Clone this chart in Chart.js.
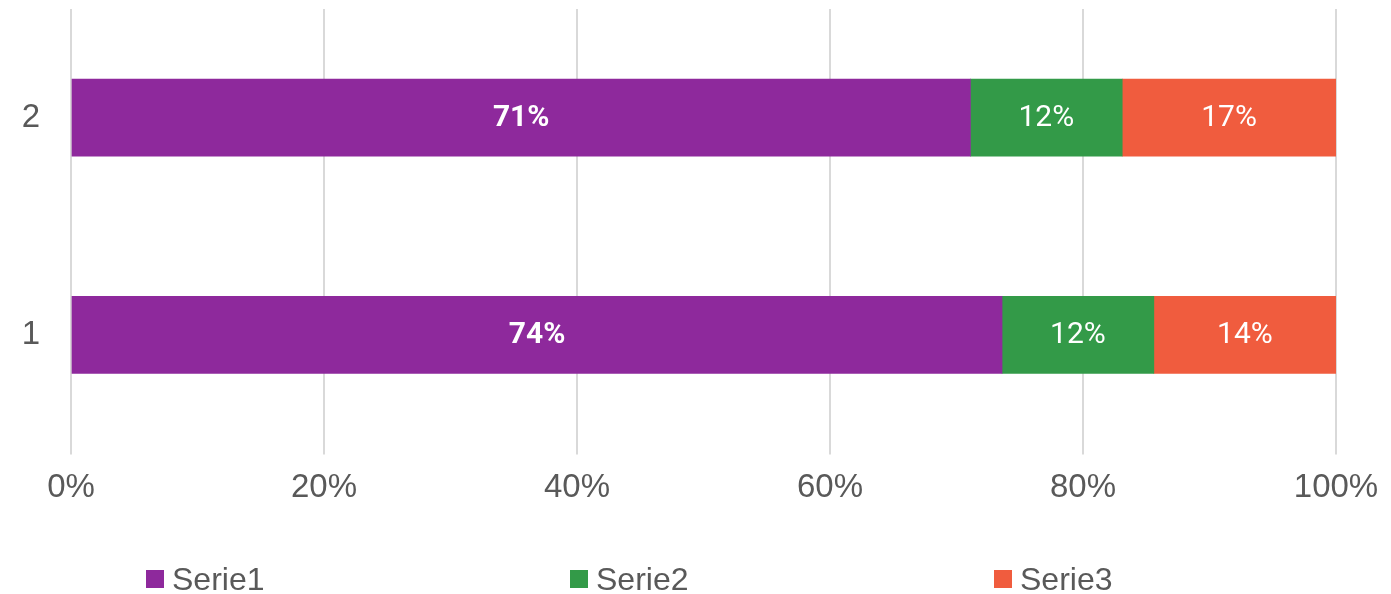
<!DOCTYPE html>
<html>
<head>
<meta charset="utf-8">
<script src="https://cdn.jsdelivr.net/npm/chart.js@4/dist/chart.umd.min.js"></script>
<style>
    html, body { margin: 0; padding: 0; background: #fff; }
    #wrap { position: relative; width: 1391px; height: 594px; }
    #legend {
        position: absolute; left: 146px; top: 560px;
        display: flex; font-family: "Liberation Sans", Arial, sans-serif;
        font-size: 32px; color: #595959;
    }
    #legend .item { width: 424px; display: flex; align-items: center; height: 38px; }
    #legend .box { width: 18px; height: 18px; margin-right: 8px; }
</style>
</head>
<body>
<div id="wrap">
    <canvas id="chart" width="1391" height="594"></canvas>
    <div id="legend"></div>
</div>
<script>
// Categories (top to bottom as drawn: "2" on top)
const categories = ['2', '1'];
const seriesNames = ['Serie1', 'Serie2', 'Serie3'];
const serie1 = [71.1, 73.6];
const serie2 = [12.0, 12.0];
const serie3 = [16.9, 14.4];
const xTicks = [0, 20, 40, 60, 80, 100];
const colors = ['#8e299c', '#339a48', '#f05c3e'];

// Draw percentage labels centred on each segment
const barLabels = {
    id: 'barLabels',
    afterDatasetsDraw(chart) {
        const ctx = chart.ctx;
        ctx.save();
        ctx.fillStyle = '#ffffff';
        ctx.textAlign = 'center';
        ctx.textBaseline = 'middle';
        chart.data.datasets.forEach((ds, i) => {
            const meta = chart.getDatasetMeta(i);
            ctx.font = (i === 0 ? 'bold ' : '') + '30px Roboto';
            meta.data.forEach((bar, j) => {
                const p = bar.getCenterPoint();
                ctx.fillText(Math.round(ds.data[j]) + '%', p.x, p.y + 1);
            });
        });
        ctx.restore();
    }
};

const allSeries = [serie1, serie2, serie3];

const chart = new Chart(document.getElementById('chart'), {
    type: 'bar',
    data: {
        labels: categories,
        datasets: allSeries.map((vals, i) => ({
            label: seriesNames[i],
            data: vals,
            backgroundColor: colors[i],
            borderWidth: 0,
            barThickness: 77
        }))
    },
    options: {
        indexAxis: 'y',
        responsive: false,
        animation: false,
        layout: { padding: { top: 9, right: 55, bottom: 72, left: 0 } },
        plugins: {
            legend: { display: false },
            tooltip: { enabled: false }
        },
        scales: {
            x: {
                stacked: true,
                min: 0,
                max: 100,
                afterBuildTicks: scale => { scale.ticks = xTicks.map(v => ({ value: v })); },
                afterFit: scale => {
                    scale.paddingLeft = 0;
                    scale.paddingRight = 0;
                },
                ticks: {
                    callback: v => v + '%',
                    color: '#595959',
                    font: { family: '"Liberation Sans", Arial', size: 33 },
                    padding: 14,
                    maxRotation: 0
                },
                grid: { color: '#d9d9d9', lineWidth: 2, tickLength: 11 },
                border: { display: false }
            },
            y: {
                stacked: true,
                afterFit: scale => {
                    scale.width = 71;
                    scale.paddingTop = 0;
                    scale.paddingBottom = 0;
                },
                ticks: {
                    color: '#595959',
                    font: { family: '"Liberation Sans", Arial', size: 33 },
                    padding: 23
                },
                grid: { display: false },
                border: { display: false }
            }
        }
    },
    plugins: [barLabels]
});

// HTML legend built from the datasets
const legend = document.getElementById('legend');
chart.data.datasets.forEach(ds => {
    const item = document.createElement('div');
    item.className = 'item';
    item.innerHTML = `<span class="box" style="background:${ds.backgroundColor}"></span><span>${ds.label}</span>`;
    legend.appendChild(item);
});
</script>
</body>
</html>
